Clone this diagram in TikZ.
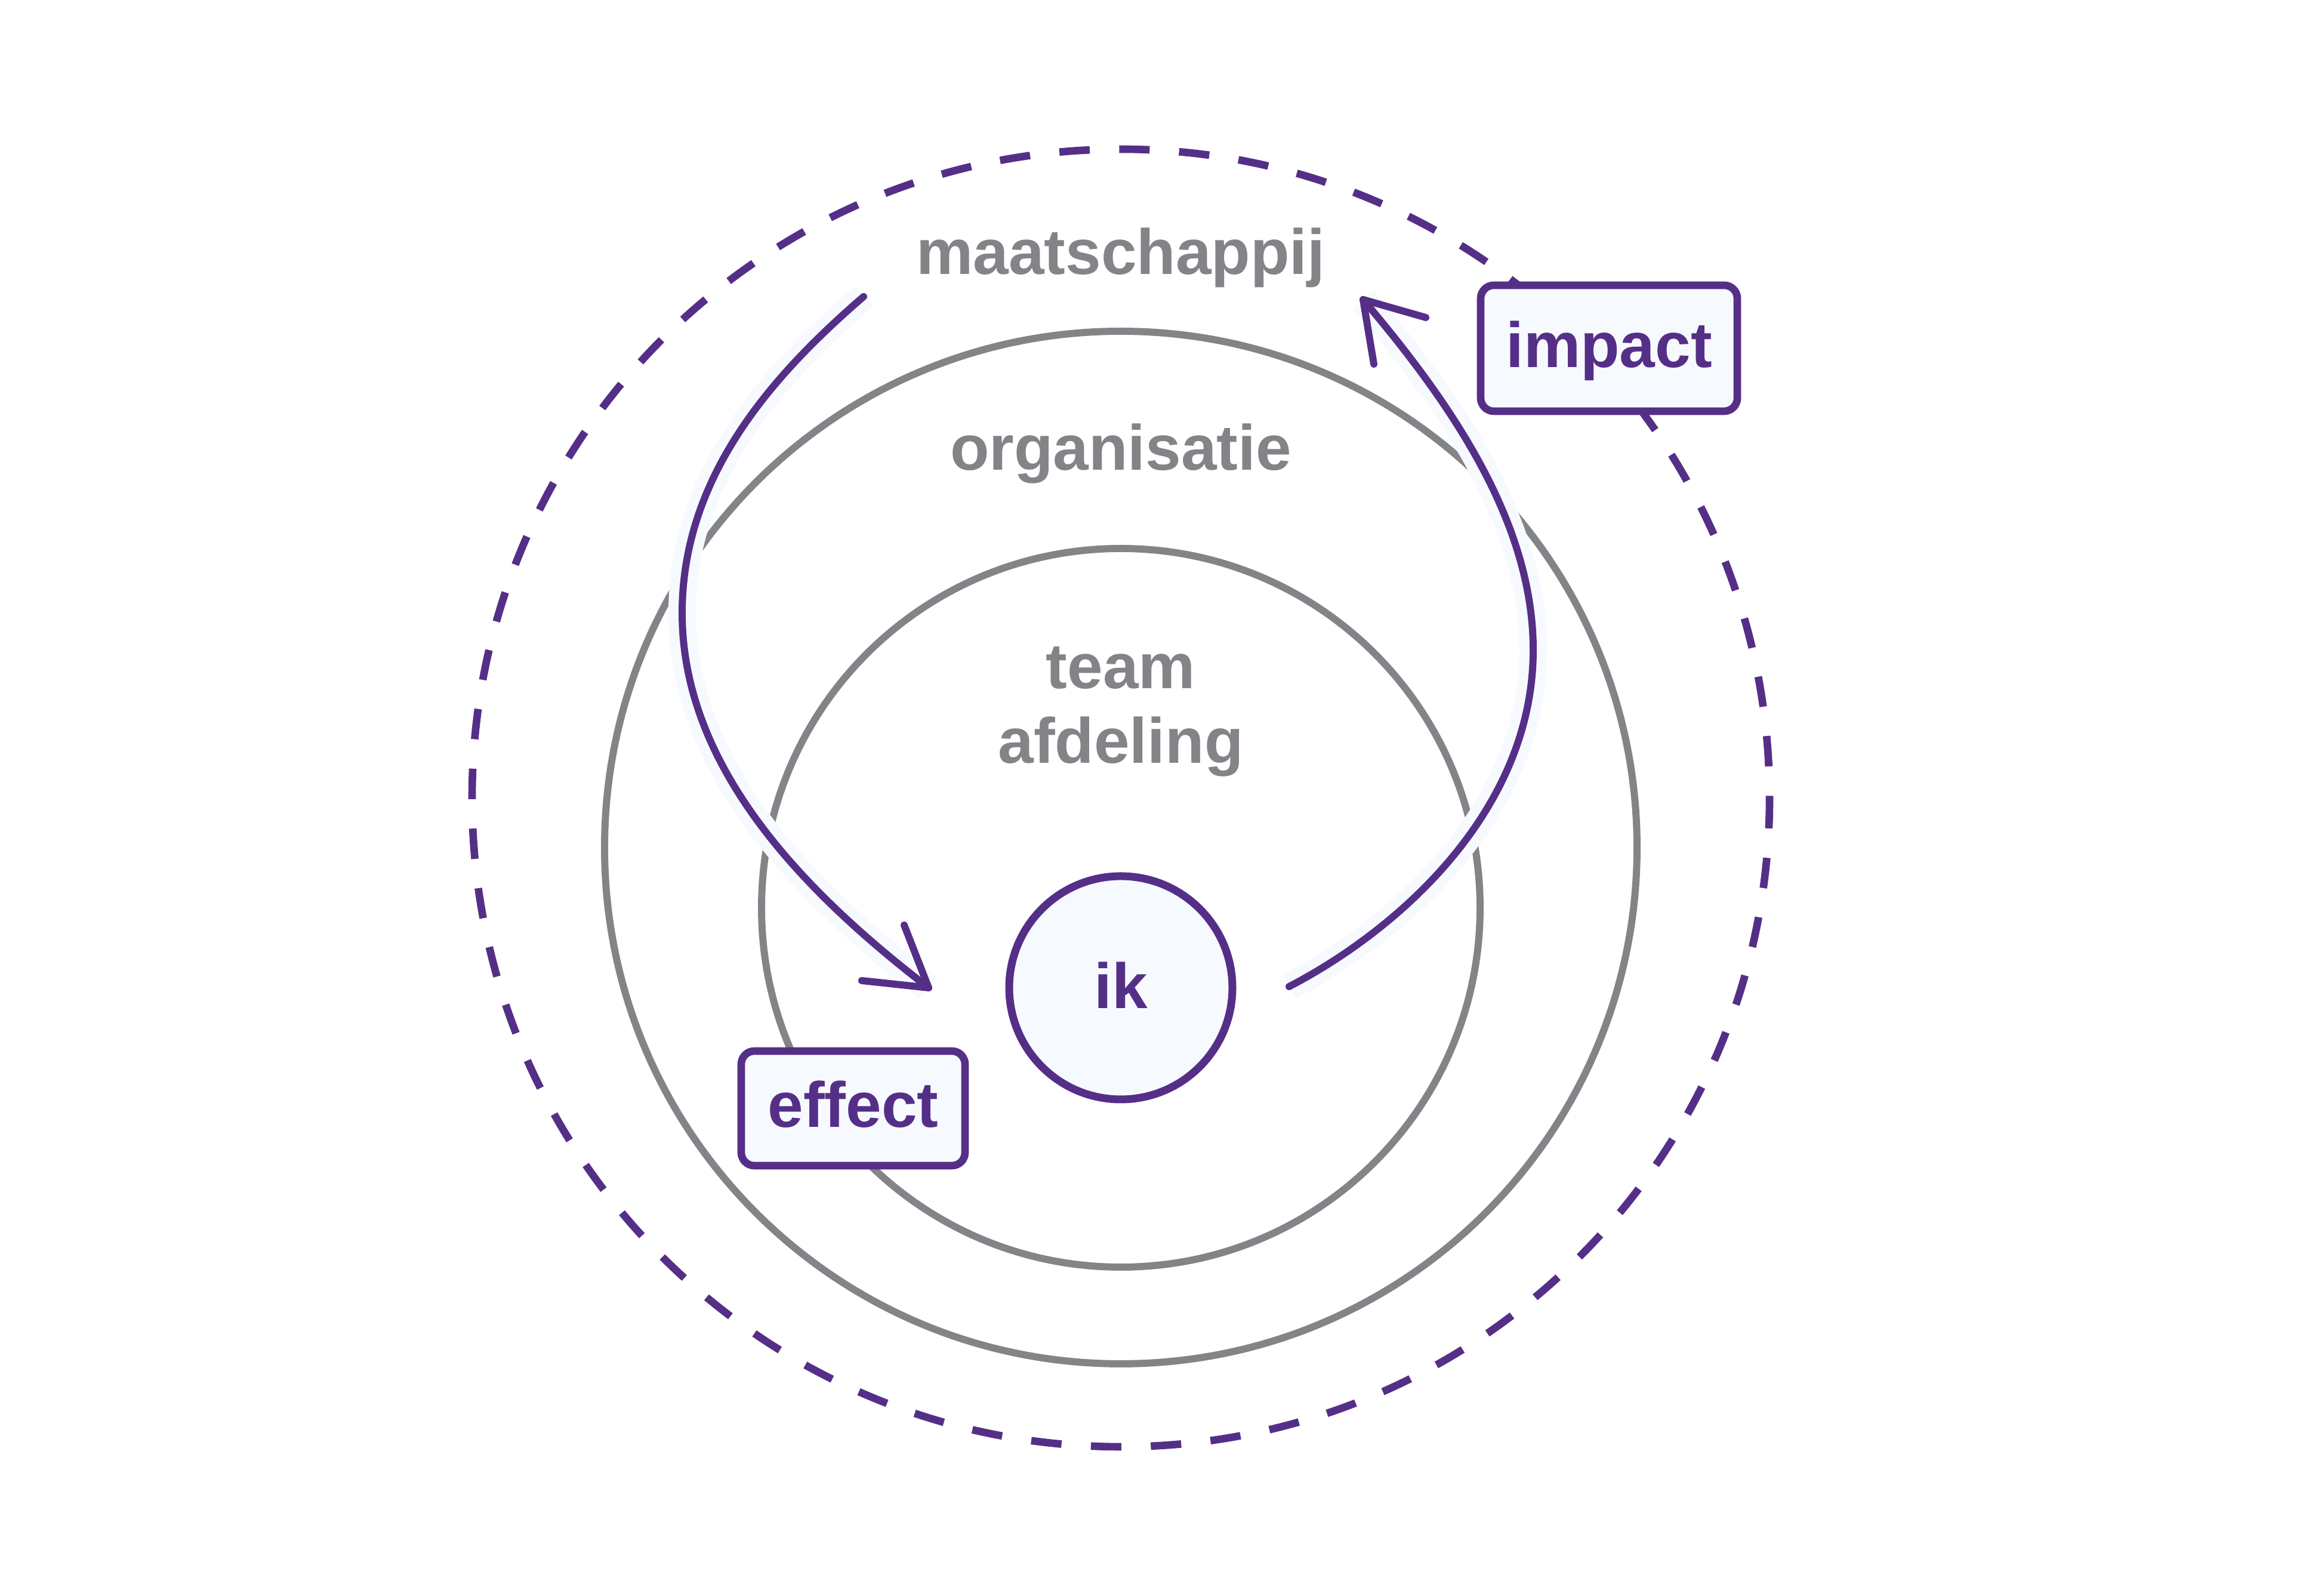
\documentclass[tikz,border=0pt]{standalone}
\usepackage{fontspec}
\setmainfont{Liberation Sans}
\definecolor{pur}{RGB}{85,47,135}
\definecolor{gry}{RGB}{131,132,136}
\definecolor{lite}{RGB}{246,250,254}
\begin{document}
\begin{tikzpicture}[
  ring/.style={draw=gry, line width=3.4pt},
  halo/.style={draw=lite, line width=0.46cm},
  flow/.style={draw=pur, line width=3.4pt, line cap=round},
  barb/.style={draw=pur, line width=3.4pt, line cap=round, line join=round},
  tag/.style={draw=pur, fill=lite, line width=3.6pt, rounded corners=0.22cm, inner sep=0pt, text=pur,
    font=\fontsize{30.5}{36}\selectfont\bfseries, text height=0.84cm, text depth=0.2cm},
  lbl/.style={text=gry, font=\fontsize{30.5}{36}\selectfont\bfseries, anchor=base, inner sep=0pt},
]
\useasboundingbox (0,0) rectangle (38.79,26.74);
\fill[white] (0,0) rectangle (38.79,26.74);

% outer dashed ring
\draw[pur, line width=3.6pt, dash pattern=on 0.51cm off 0.494cm, dash phase=0.474cm] (18.78,13.37) circle (10.87);

% grey rings
\draw[ring] (18.78,12.54) circle (8.65);
\draw[ring] (18.78,11.53) circle (6.02);

% coordinates of the arrows
\coordinate (ls) at (14.47,21.77);
\coordinate (ll) at (11.43,16.47);
\coordinate (lt) at (15.56,10.19);
\coordinate (la1) at (15.15,11.24);
\coordinate (la2) at (14.44,10.31);
\coordinate (rs) at (21.60,10.21);
\coordinate (rr) at (25.69,15.85);
\coordinate (rt) at (22.84,21.72);
\coordinate (ra1) at (23.89,21.42);
\coordinate (ra2) at (23.02,20.64);

% halos
\draw[halo] (ls) .. controls (13.0,20.5) and (11.43,18.8) .. (ll) .. controls (11.43,13.8) and (13.6,11.7) .. (lt);
\draw[halo] (rs) .. controls (23.5,11.2) and (25.69,13.2) .. (rr) .. controls (25.69,18.0) and (24.3,20.0) .. (rt);

% arrows
\draw[flow] (ls) .. controls (13.0,20.5) and (11.43,18.8) .. (ll) .. controls (11.43,13.8) and (13.6,11.7) .. (lt);
\draw[barb] (la1) -- (lt) -- (la2);
\draw[flow] (rs) .. controls (23.5,11.2) and (25.69,13.2) .. (rr) .. controls (25.69,18.0) and (24.3,20.0) .. (rt);
\draw[barb] (ra1) -- (rt) -- (ra2);

% labels
\node[lbl] (maat) at (18.78,22.14) {maatschappij};
\node[lbl] (orga) at (18.78,18.865) {organisatie};
\node[lbl] (team) at (18.78,15.20) {team};
\node[lbl] (afd) at (18.78,13.95) {afdeling};

\node[circle, draw=pur, fill=lite, line width=3.7pt, minimum size=3.74cm, inner sep=0pt] (ik) at (18.78,10.19) {};
\node[lbl, text=pur] (iktext) at (18.78,9.84) {ik};

\node[tag, minimum width=3.75cm, minimum height=1.92cm] (effect) at (14.295,8.17) {effect};
\node[tag, minimum width=4.30cm, minimum height=2.11cm] (impact) at (26.96,20.905) {impact};
\end{tikzpicture}
\end{document}
